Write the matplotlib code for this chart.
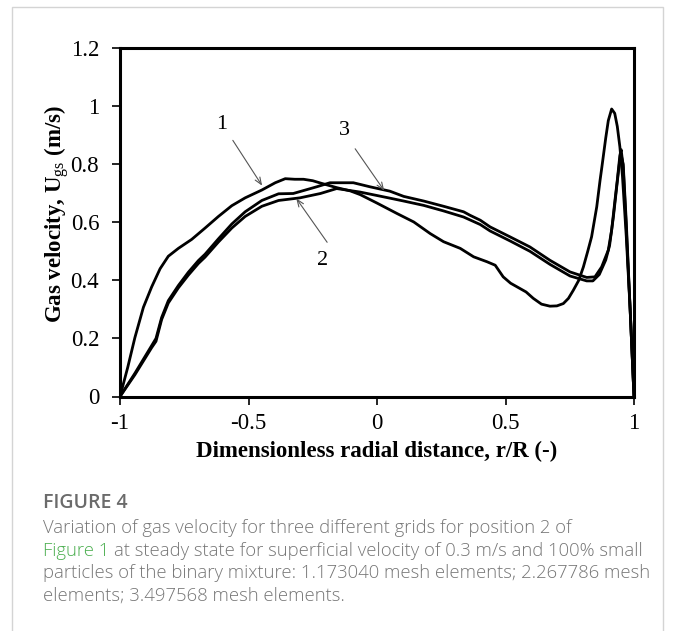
import matplotlib
matplotlib.use("Agg")
import matplotlib.pyplot as plt
from matplotlib.patches import Rectangle

# radial profiles of gas velocity, one per grid
r_grid1 = [-1.0, -0.97, -0.942, -0.909, -0.877, -0.844, -0.812, -0.773, -0.721,
           -0.669, -0.617, -0.565, -0.513, -0.448, -0.396, -0.357, -0.32, -0.286,
           -0.25, -0.22, -0.156, -0.104, -0.065, 0.0, 0.078, 0.143, 0.207, 0.259,
           0.324, 0.376, 0.428, 0.46, 0.491, 0.52, 0.556, 0.58, 0.608, 0.64, 0.673,
           0.7, 0.725, 0.745, 0.764, 0.785, 0.803, 0.82, 0.835, 0.855, 0.868, 0.875,
           0.89, 0.9, 0.913, 0.925, 0.935, 0.945, 0.955, 0.97, 0.985, 1.0]
u_grid1 = [0.0, 0.1, 0.203, 0.307, 0.377, 0.44, 0.483, 0.51, 0.541,
           0.58, 0.62, 0.657, 0.684, 0.711, 0.736, 0.75, 0.748, 0.748,
           0.743, 0.735, 0.719, 0.708, 0.695, 0.666, 0.63, 0.601, 0.561, 0.533,
           0.51, 0.481, 0.464, 0.452, 0.412, 0.39, 0.372, 0.36, 0.338, 0.318, 0.311,
           0.312, 0.32, 0.338, 0.366, 0.4, 0.446, 0.5, 0.55, 0.653, 0.745, 0.79,
           0.89, 0.95, 0.99, 0.975, 0.93, 0.86, 0.76, 0.55, 0.3, 0.0]

r_grid2 = [-1.0, -0.942, -0.877, -0.86, -0.838, -0.812, -0.773, -0.734, -0.695,
           -0.669, -0.617, -0.565, -0.513, -0.448, -0.383, -0.3, -0.22, -0.157,
           -0.066, 0.05, 0.104, 0.182, 0.259, 0.337, 0.402, 0.44, 0.517, 0.595,
           0.673, 0.751, 0.816, 0.84, 0.865, 0.89, 0.905, 0.92, 0.935, 0.948,
           0.958, 0.97, 0.985, 1.0]
u_grid2 = [0.0, 0.075, 0.168, 0.19, 0.265, 0.322, 0.374, 0.418, 0.458,
           0.48, 0.532, 0.58, 0.62, 0.655, 0.675, 0.684, 0.699, 0.716,
           0.704, 0.683, 0.673, 0.658, 0.639, 0.618, 0.592, 0.57, 0.536, 0.5,
           0.455, 0.415, 0.398, 0.398, 0.42, 0.47, 0.52, 0.62, 0.74, 0.84,
           0.8, 0.6, 0.3, 0.0]

r_grid3 = [-1.0, -0.942, -0.877, -0.86, -0.838, -0.812, -0.773, -0.734, -0.695,
           -0.669, -0.617, -0.565, -0.513, -0.448, -0.383, -0.326, -0.235, -0.183,
           -0.092, -0.027, 0.05, 0.104, 0.182, 0.259, 0.337, 0.362, 0.402, 0.44,
           0.517, 0.595, 0.673, 0.751, 0.816, 0.848, 0.874, 0.9, 0.913, 0.926,
           0.935, 0.945, 0.95, 0.958, 0.97, 0.985, 1.0]
u_grid3 = [0.0, 0.08, 0.175, 0.2, 0.272, 0.33, 0.382, 0.428, 0.468,
           0.49, 0.543, 0.594, 0.636, 0.675, 0.698, 0.699, 0.722, 0.736,
           0.736, 0.722, 0.707, 0.689, 0.673, 0.655, 0.636, 0.624, 0.607, 0.584,
           0.55, 0.515, 0.469, 0.429, 0.41, 0.412, 0.446, 0.504, 0.573, 0.676,
           0.745, 0.83, 0.85, 0.79, 0.58, 0.3, 0.0]

# curve labels: text, text position, arrow tail, arrow tip
curve_labels = ["1", "2", "3"]
label_xy = [(-0.603, 0.935), (-0.21, 0.468), (-0.125, 0.916)]
arrow_tail = [(-0.561, 0.882), (-0.194, 0.531), (-0.085, 0.853)]
arrow_tip = [(-0.447, 0.726), (-0.314, 0.682), (0.028, 0.709)]

x_ticks = [-1, -0.5, 0, 0.5, 1]
x_ticklabels = ["-1", "-0.5", "0", "0.5", "1"]
y_ticks = [0, 0.2, 0.4, 0.6, 0.8, 1.0, 1.2]
y_ticklabels = ["0", "0.2", "0.4", "0.6", "0.8", "1", "1.2"]

caption_title = "FIGURE 4"
caption_lines = [
    "Variation of gas velocity for three different grids for position 2 of",
    "at steady state for superficial velocity of 0.3 m/s and 100% small",
    "particles of the binary mixture: 1.173040 mesh elements; 2.267786 mesh",
    "elements; 3.497568 mesh elements.",
]
caption_link = "Figure 1"

plt.rcParams["font.family"] = ["Liberation Serif", "DejaVu Serif"]
plt.rcParams["axes.unicode_minus"] = False
plt.rcParams["mathtext.fontset"] = "custom"
plt.rcParams["mathtext.rm"] = "Liberation Serif"
plt.rcParams["mathtext.bf"] = "Liberation Serif:bold"

W, H = 675, 631
fig = plt.figure(figsize=(W / 100, H / 100), dpi=100)
ax = fig.add_axes([120 / W, 1 - 396.5 / H, 514 / W, 348.5 / H])

for r, u in [(r_grid1, u_grid1), (r_grid2, u_grid2), (r_grid3, u_grid3)]:
    ax.plot(r, u, color="black", lw=2.0, solid_joinstyle="round")

for txt, pos, tail, tip in zip(curve_labels, label_xy, arrow_tail, arrow_tip):
    ax.text(pos[0], pos[1], txt, fontsize=16, ha="center", va="center")
    ax.annotate("", xy=tip, xytext=tail,
                arrowprops=dict(arrowstyle="->,head_length=0.5,head_width=0.2",
                                color="#555555", lw=0.8, shrinkA=0, shrinkB=0))

ax.set_xlim(-1, 1)
ax.set_ylim(0, 1.2)
ax.set_xticks(x_ticks)
ax.set_xticklabels(x_ticklabels)
ax.set_yticks(y_ticks)
ax.set_yticklabels(y_ticklabels)
ax.tick_params(direction="out", length=6, width=1.2, labelsize=16.5)
ax.tick_params(axis="y", pad=9)
ax.tick_params(axis="x", pad=6)
for s in ax.spines.values():
    s.set_linewidth(2.2)

ax.set_xlabel("Dimensionless radial distance, r/R (-)", fontsize=16.5,
              fontweight="bold", va="center")
ax.xaxis.set_label_coords(0.5, -0.159)
ax.set_ylabel(r"Gas velocity, U$_{\mathrm{gs}}$ (m/s)", fontsize=16.5,
              fontweight="bold", va="center")
ax.yaxis.set_label_coords(-0.122, 0.525)

# panel frame, open at the bottom
fig.patches.append(Rectangle((11.5 / W, -0.1), (663 - 11.5) / W, 1.1 - 7 / H,
                             transform=fig.transFigure, fill=False,
                             edgecolor="#d4d4d4", lw=1.0))

cap_font = ["Open Sans", "DejaVu Sans"]
cap_size = 13.3
x0 = 43 / W
fig.text(x0, 1 - 508 / H, caption_title, fontsize=14, color="#6b6b6b",
         fontweight="semibold", family=cap_font, va="baseline")
baselines = [533, 555.5, 578.3, 601]
fig.text(x0, 1 - baselines[0] / H, caption_lines[0], fontsize=cap_size,
         color="#767676", family=cap_font, va="baseline", fontweight="light")
link = fig.text(x0, 1 - baselines[1] / H, caption_link, fontsize=cap_size,
                color="#4caf50", family=cap_font, va="baseline", fontweight="light")
renderer = fig.canvas.get_renderer()
lw_px = link.get_window_extent(renderer).width
fig.text(x0 + (lw_px + 5) / W, 1 - baselines[1] / H, caption_lines[1],
         fontsize=cap_size, color="#767676", family=cap_font, va="baseline",
         fontweight="light")
for line, b in zip(caption_lines[2:], baselines[2:]):
    fig.text(x0, 1 - b / H, line, fontsize=cap_size, color="#767676",
             family=cap_font, va="baseline", fontweight="light")

fig.savefig("out.png", dpi=100, facecolor="white")
